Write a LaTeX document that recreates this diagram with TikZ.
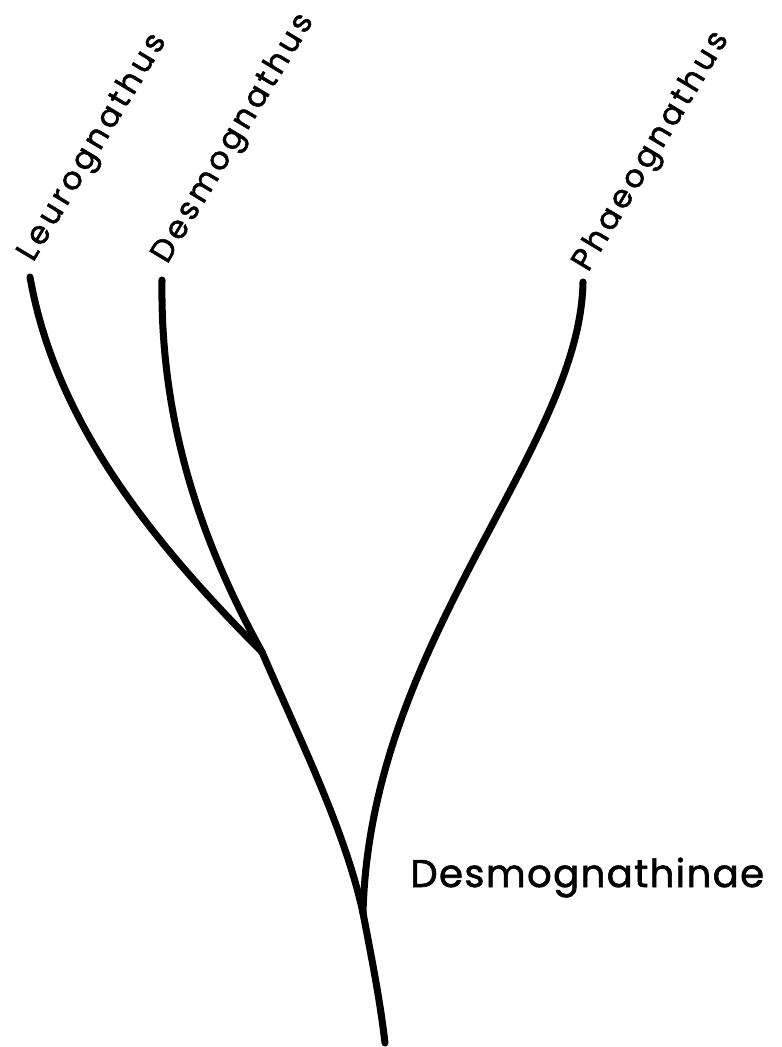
\documentclass[tikz,border=0pt]{standalone}
\usepackage{fontspec}
\newfontfamily\taxonfont[LetterSpace=12,FakeBold=1.5]{Poppins}
\newfontfamily\cladefont[LetterSpace=3.5,FakeBold=1.5]{Poppins}
\usetikzlibrary{calc}

\begin{document}
\begin{tikzpicture}[x=0.02cm,y=-0.02cm,
    branch/.style={line width=4pt,line cap=round},
    taxon/.style={anchor=base west,rotate=59,inner sep=0pt,
      font=\taxonfont\fontsize{18}{21}\selectfont},
    clade/.style={anchor=base west,inner sep=0pt,
      font=\cladefont\fontsize{22}{26}\selectfont}]
    \useasboundingbox (0,0) rectangle (781,1047);
    \coordinate (leuro) at (30,277);
    \coordinate (desmo) at (162,280);
    \coordinate (phaeo) at (583,282);
    \coordinate (n1) at (262,652);
    \coordinate (n2) at (363,913);
    \coordinate (root) at (385,1043);
    \node[taxon] (lleuro) at ($(leuro)+(3,-14)$) {Leurognathus};
    \node[taxon] (ldesmo) at ($(desmo)+(5,-15)$) {Desmognathus};
    \node[taxon] (lphaeo) at ($(phaeo)+(5,-9)$) {Phaeognathus};
    \node[clade] (lsub) at ($(n2)+(47,-26)$) {Desmognathinae};
    \draw[branch] (leuro) .. controls (55,420) and (150,540) .. (n1);
    \draw[branch] (desmo) .. controls (160,420) and (200,540) .. (n1);
    \draw[branch] (n1) .. controls (300,740) and (345,830) .. (n2);
    \draw[branch] (phaeo) .. controls (580,450) and (370,640) .. (n2);
    \draw[branch] (n2) .. controls (372,960) and (380,1000) .. (root);
  \end{tikzpicture}
\end{document}
